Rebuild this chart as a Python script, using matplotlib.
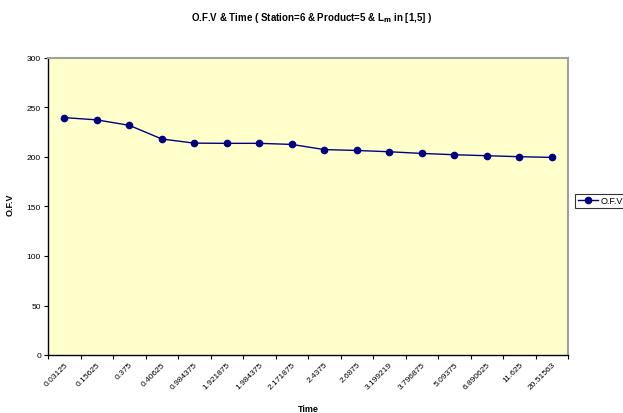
import matplotlib
matplotlib.use("Agg")
import matplotlib.pyplot as plt
from matplotlib.ticker import FixedLocator, NullFormatter

plt.rcParams['font.family'] = ['Liberation Sans', 'DejaVu Sans']

time_labels = ["0.03125", "0.15625", "0.375", "0.40625", "0.984375", "1.921875",
               "1.984375", "2.171875", "2.4375", "2.6875", "3.199219", "3.796875",
               "5.09375", "6.890625", "11.625", "20.51563"]
ofv = [239.8, 237.5, 232.0, 218.2, 214.0, 213.8, 213.8, 212.7, 207.5, 206.6,
       205.3, 203.6, 202.3, 201.3, 200.3, 199.6]
series_name = "O.F.V"

fig = plt.figure(figsize=(6.23, 4.14), dpi=100)
ax = fig.add_axes([48/623, 1-356/414, 520/623, 297/414])
ax.set_facecolor('#FFFFCC')

x = list(range(len(ofv)))
ax.plot(x, ofv, color='#000080', marker='o', markersize=4.5, linewidth=1.0,
        label=series_name)

ax.set_xlim(-0.5, len(ofv) - 0.5)
ax.set_ylim(0, 300)
ax.set_yticks(range(0, 301, 50))
ax.tick_params(axis='y', labelsize=6, length=3, width=0.8, direction='out', pad=2)

ax.set_xticks(x)
ax.set_xticklabels(time_labels, rotation=45, ha='right', va='top', fontsize=6,
                   rotation_mode='anchor')
ax.tick_params(axis='x', which='major', length=0, pad=4)
ax.xaxis.set_minor_locator(FixedLocator([i - 0.5 for i in range(len(ofv) + 1)]))
ax.xaxis.set_minor_formatter(NullFormatter())
ax.tick_params(axis='x', which='minor', length=3, width=0.8, direction='out')

for s in ['left', 'bottom']:
    ax.spines[s].set_color('black')
    ax.spines[s].set_linewidth(1.0)
for s in ['top', 'right']:
    ax.spines[s].set_color('#A0A0A0')
    ax.spines[s].set_linewidth(1.5)

fig.text(0.5, 1-18/414, r"O.F.V & Time ( Station=6 & Product=5 & L$_\mathbf{m}$ in [1,5] )",
         ha='center', va='center', fontsize=7, fontweight='bold')
fig.text(10/623, 1-205/414, "O.F.V", rotation=90, ha='center', va='center',
         fontsize=6.5, fontweight='bold')
fig.text(308/623, 1-410/414, "Time", ha='center', va='center',
         fontsize=6.5, fontweight='bold')

leg = ax.legend(loc='center left', bbox_to_anchor=(575/623, 1-202/414),
                bbox_transform=fig.transFigure, fontsize=6.5, frameon=True,
                fancybox=False, borderpad=0.3, handlelength=2.2, handletextpad=0.3,
                borderaxespad=0)
leg.get_frame().set_edgecolor('black')
leg.get_frame().set_linewidth(0.8)

fig.savefig("out.png", dpi=100)
